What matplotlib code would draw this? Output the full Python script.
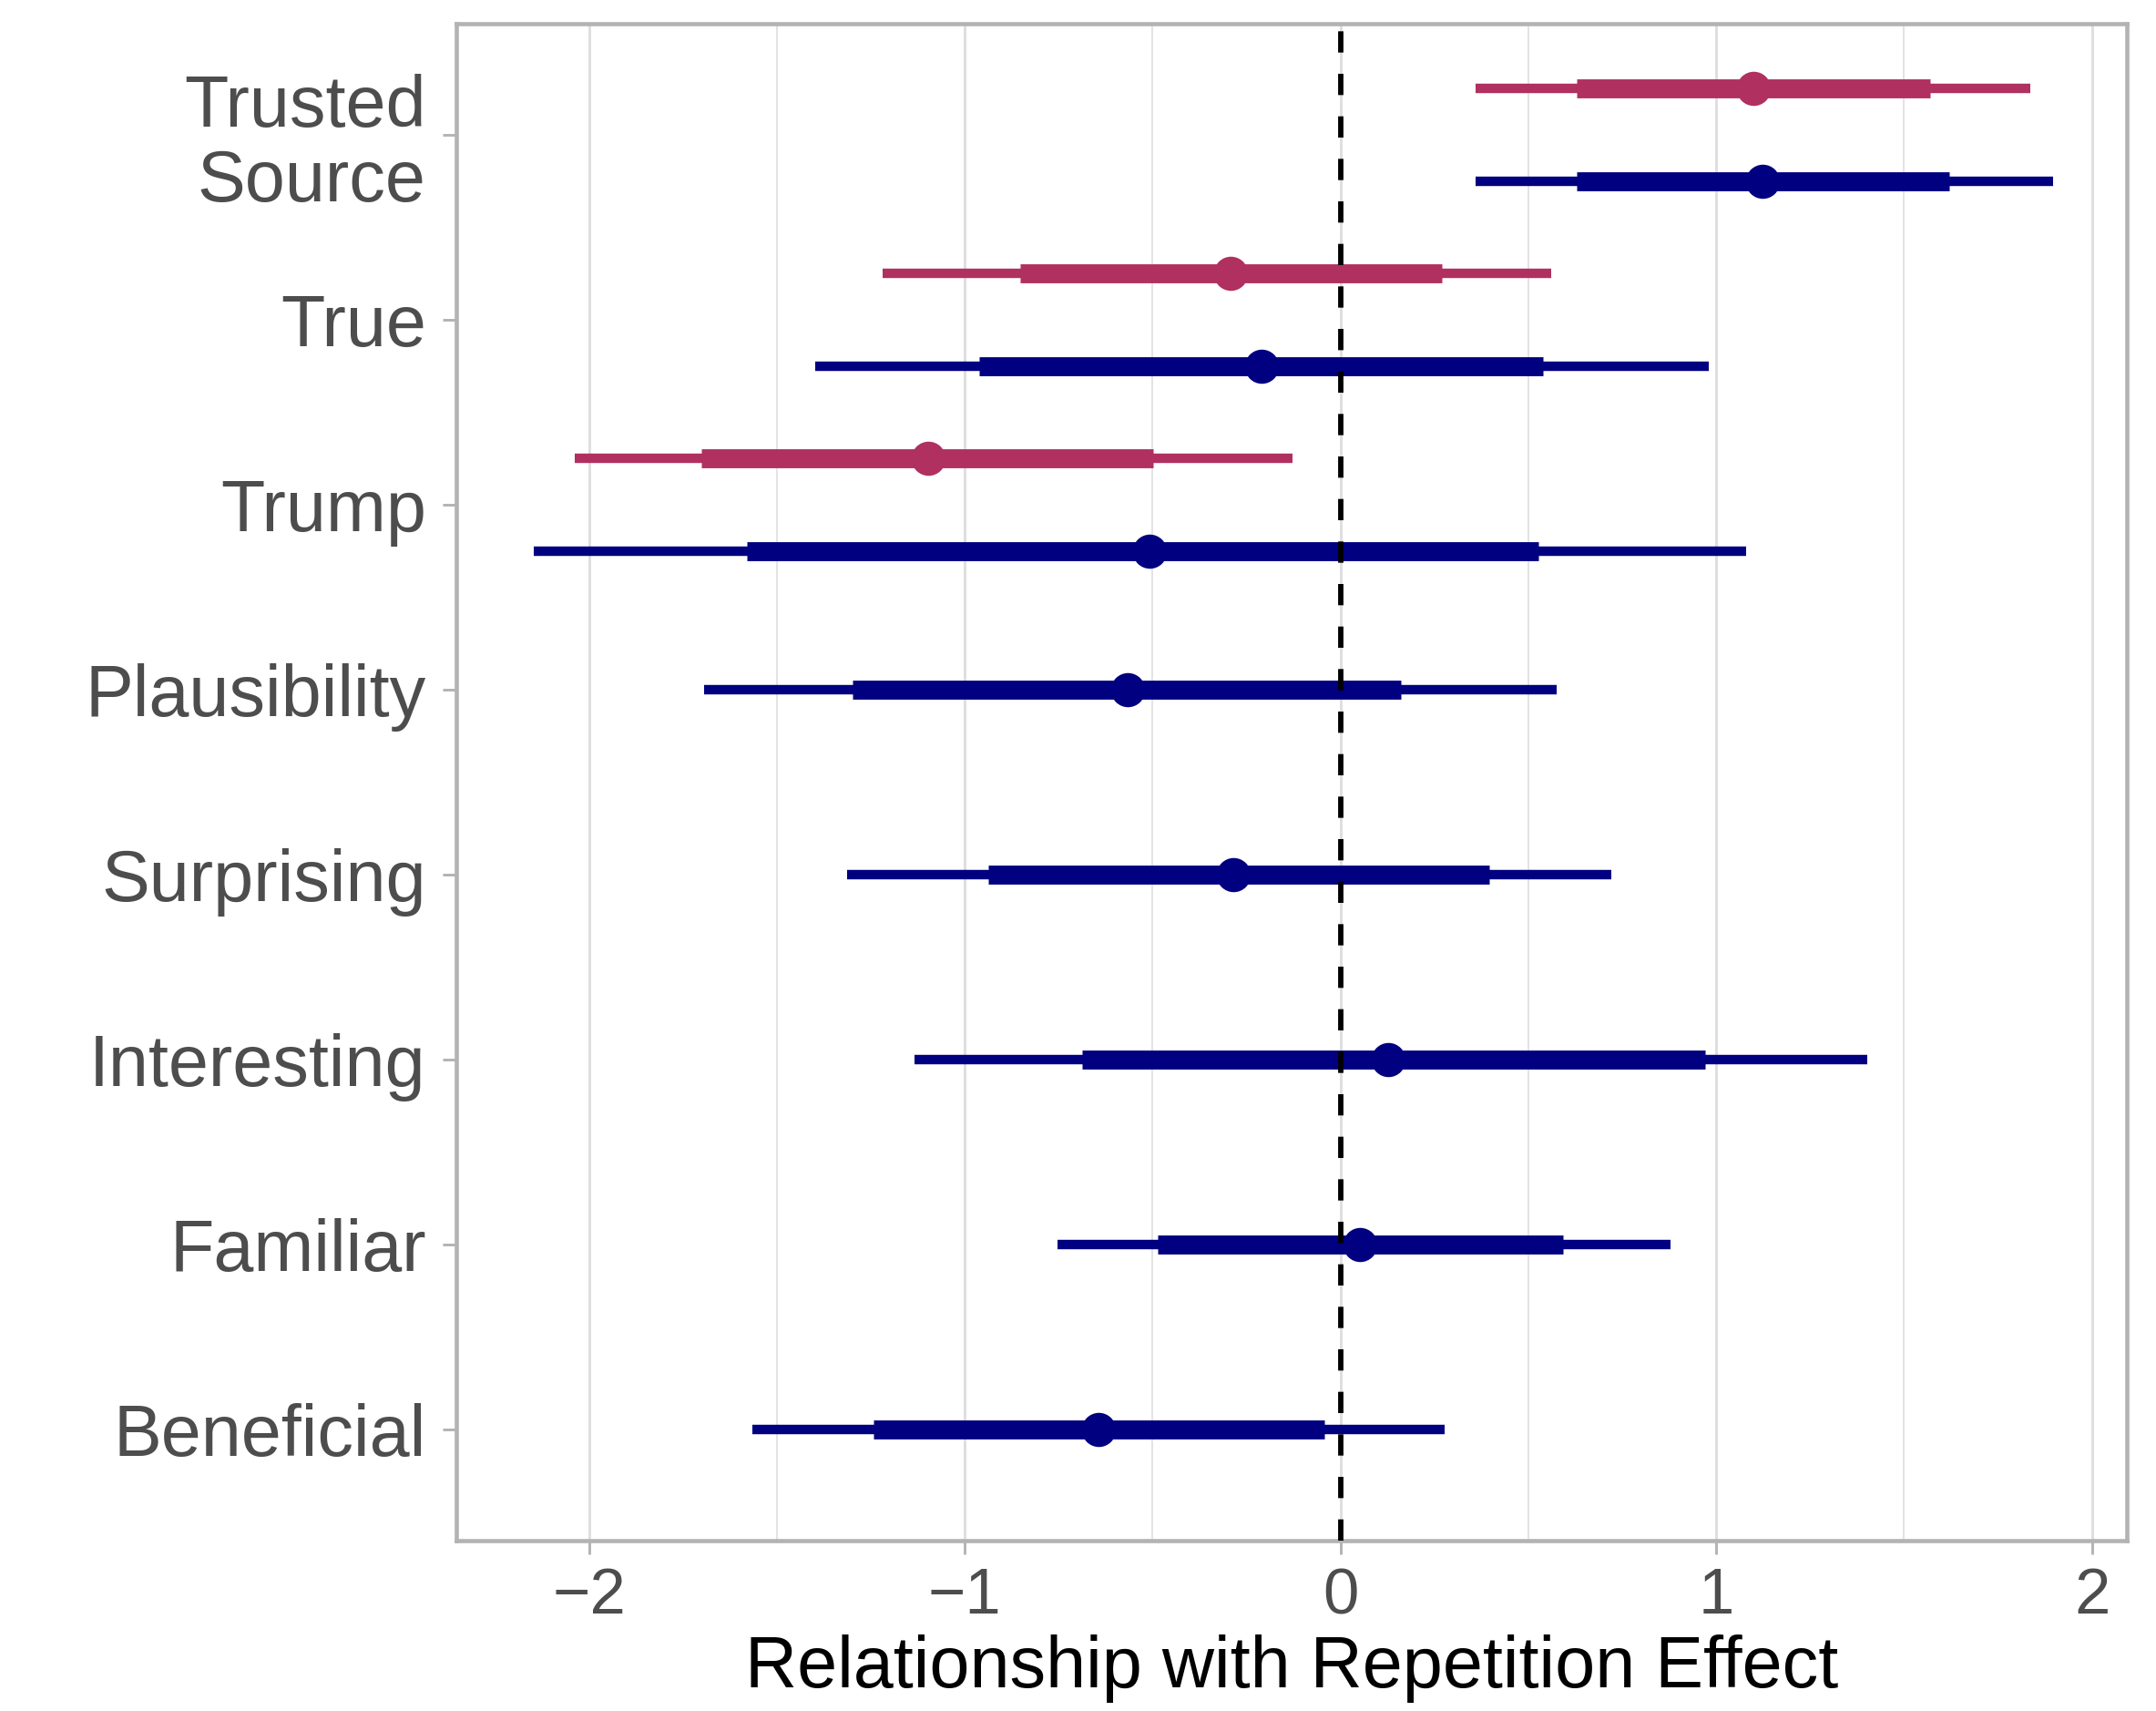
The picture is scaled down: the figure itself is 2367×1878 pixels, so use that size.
import numpy as np
import matplotlib
matplotlib.use('Agg')
import matplotlib.pyplot as plt

# =========================================================================
# Data
# =========================================================================
categories = ['Beneficial', 'Familiar', 'Interesting', 'Surprising',
              'Plausibility', 'Trump', 'True', 'Trusted\nSource']

# blue series: all predictors
blue_est = [-0.644, 0.051, 0.128, -0.285, -0.567, -0.509, -0.209, 1.124]
blue_lo95 = [-1.566, -0.754, -1.134, -1.314, -1.694, -2.148, -1.398, 0.359]
blue_hi95 = [0.278, 0.878, 1.402, 0.721, 0.575, 1.080, 0.981, 1.896]
blue_lo50 = [-1.244, -0.487, -0.688, -0.937, -1.299, -1.581, -0.962, 0.629]
blue_hi50 = [-0.044, 0.593, 0.970, 0.395, 0.161, 0.527, 0.538, 1.621]

# red series: only three predictors
red_cats = ['Trump', 'True', 'Trusted\nSource']
red_est = [-1.098, -0.293, 1.098]
red_lo95 = [-2.038, -1.219, 0.359]
red_hi95 = [-0.128, 0.560, 1.837]
red_lo50 = [-1.702, -0.853, 0.629]
red_hi50 = [-0.498, 0.271, 1.570]

RED = '#B03060'
BLUE = '#000080'
GRID = '#DEDEDE'
BORDER = '#B3B3B3'
TXT = '#4D4D4D'

plt.rcParams['font.family'] = ['Liberation Sans', 'DejaVu Sans']


def draw_series(ax, ypos, est, lo95, hi95, lo50, hi50, color):
    ypos = np.asarray(ypos, dtype=float)
    ax.hlines(ypos, lo95, hi95, color=color, lw=2.5, zorder=3)
    ax.hlines(ypos, lo50, hi50, color=color, lw=5.0, zorder=4)
    ax.plot(est, ypos, 'o', color=color, markersize=9, zorder=5,
            markeredgewidth=0)


def main():
    fig = plt.figure(figsize=(2367 / 300, 1878 / 300), dpi=300)
    fig.patch.set_facecolor('white')
    ax = fig.add_axes([0.2117, 0.0996, 0.9865 - 0.2117, 0.9862 - 0.0996])

    ypos = {c: i + 1 for i, c in enumerate(categories)}
    dodge = 0.25

    blue_y = [ypos[c] - (dodge if c in red_cats else 0) for c in categories]
    red_y = [ypos[c] + dodge for c in red_cats]

    draw_series(ax, blue_y, blue_est, blue_lo95, blue_hi95,
                blue_lo50, blue_hi50, BLUE)
    draw_series(ax, red_y, red_est, red_lo95, red_hi95,
                red_lo50, red_hi50, RED)

    ax.axvline(0, color='black', lw=1.4, linestyle=(0, (4, 4)), zorder=6)

    # axes / grid
    ax.set_xlim(-2.353, 2.093)
    ax.set_ylim(0.4, len(categories) + 0.6)
    ax.set_xticks([-2, -1, 0, 1, 2])
    ax.set_xticklabels(['\u22122', '\u22121', '0', '1', '2'])
    ax.set_xticks([-1.5, -0.5, 0.5, 1.5], minor=True)
    ax.set_yticks(list(ypos.values()))
    ax.set_yticklabels(categories, fontsize=19, color=TXT,
                       linespacing=1.12)
    ax.grid(True, axis='x', which='major', color=GRID, lw=0.7, zorder=0)
    ax.grid(True, axis='x', which='minor', color=GRID, lw=0.4, zorder=0)
    ax.set_axisbelow(True)

    ax.tick_params(axis='x', which='major', labelsize=17, labelcolor=TXT,
                   color=BORDER, length=3.5, width=0.7, pad=3.5)
    ax.tick_params(axis='y', which='major', color=BORDER, length=3.5,
                   width=0.7, pad=4.5)
    ax.tick_params(which='minor', length=0)

    for spine in ax.spines.values():
        spine.set_color(BORDER)
        spine.set_linewidth(1.1)

    ax.set_xlabel('Relationship with Repetition Effect', fontsize=19,
                  color='black', labelpad=2)

    fig.savefig('out.png', dpi=300, facecolor='white')


if __name__ == '__main__':
    main()
